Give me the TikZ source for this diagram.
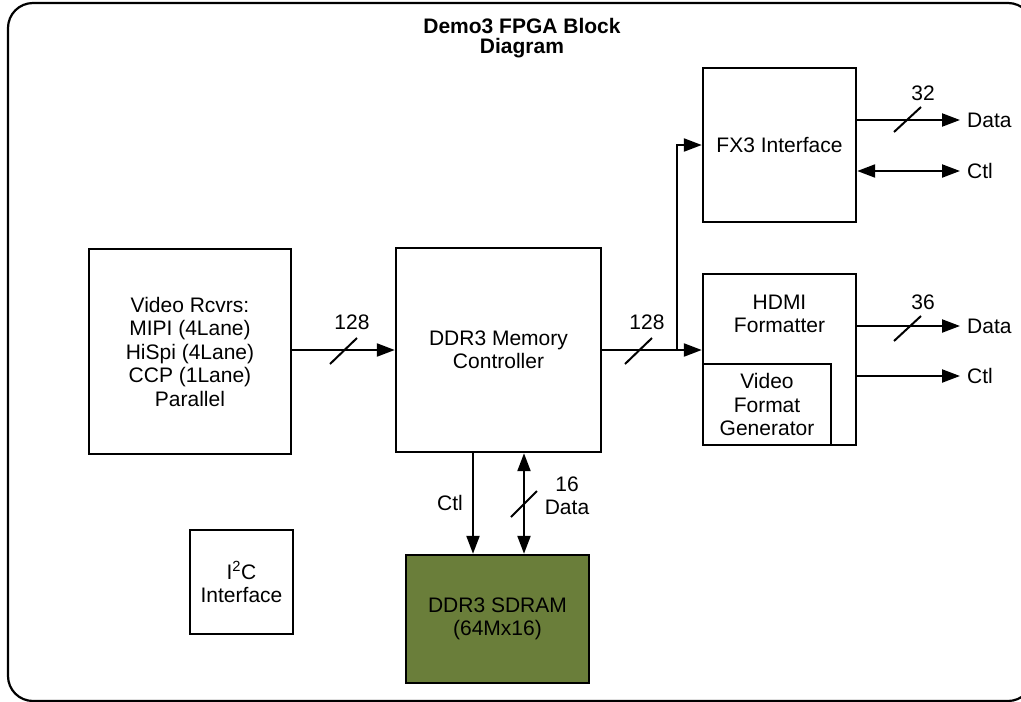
\documentclass[tikz,border=0pt]{standalone}
\usepackage{fontspec}
\setmainfont{Liberation Sans}
\usetikzlibrary{arrows.meta}
\definecolor{olive}{RGB}{106,126,58}
\begin{document}
\begin{tikzpicture}[x=1pt,y=-1pt,
  every node/.style={font=\fontsize{21}{23.5}\selectfont, align=center, inner sep=0pt},
  blk/.style={draw, line width=2.4pt, minimum width=#1},
  arr/.style={line width=2.2pt, -{Triangle[length=18pt,width=13pt]}},
  darr/.style={line width=2.2pt, {Triangle[length=18pt,width=13pt]}-{Triangle[length=18pt,width=13pt]}},
  slash/.style={line width=2pt}]
\useasboundingbox (0,0) rectangle (1021,702);
\clip (0,0) rectangle (1021,702);
\draw[line width=2.2pt, rounded corners=25pt] (8,3) rectangle (1033,701);

\node[font=\fontsize{21}{20}\selectfont\bfseries] (title) at (522,38) {Demo3 FPGA Block\\Diagram};

\node[blk=202pt, minimum height=205pt] (vid) at (190,351.5) {Video Rcvrs:\\MIPI (4Lane)\\HiSpi (4Lane)\\CCP (1Lane)\\Parallel};
\node[blk=205pt, minimum height=204pt] (ddr) at (498.5,350) {DDR3 Memory\\Controller};
\node[blk=153pt, minimum height=154pt] (fx3) at (779.5,145) {FX3 Interface};
\node[blk=153pt, minimum height=171pt] (hdmi) at (779.5,359.5) {};
\node (hdmitxt) at (779.5,314) {HDMI\\Formatter};
\node[blk=128pt, minimum height=81pt, fill=white] (vfg) at (767,404.5) {Video\\Format\\Generator};
\node[blk=183pt, minimum height=128pt, fill=olive] (sdram) at (497.5,619) {DDR3 SDRAM\\(64Mx16)};
\node[blk=103pt, minimum height=104pt] (i2c) at (241.5,582) {I\textsuperscript{2}C\\Interface};

% video -> ddr
\draw[arr] (vid.east |- ddr.west) -- (ddr.west);
\draw[slash] (330,364) -- (357,338);
\node (l128a) at (352,322) {128};

% ddr -> hdmi, branch to fx3
\draw[arr] (ddr.east) -- (ddr.east -| hdmi.west);
\coordinate (br) at (677,350);
\draw[arr] (br) |- (fx3.west);
\draw[slash] (625,364) -- (652,338);
\node (l128b) at (647,322) {128};

% fx3 outputs
\node[anchor=west] (fxdata) at (967,120) {Data};
\node[anchor=west] (fxctl) at (967,171) {Ctl};
\draw[arr] (fxdata.west -| fx3.east) -- ([xshift=-7pt]fxdata.west);
\draw[darr] (fxctl.west -| fx3.east) -- ([xshift=-7pt]fxctl.west);
\draw[slash] (894,132) -- (921,107);
\node (l32) at (923,93) {32};

% hdmi outputs
\node[anchor=west] (hddata) at (967,326) {Data};
\node[anchor=west] (hdctl) at (967,376) {Ctl};
\draw[arr] (hddata.west -| hdmi.east) -- ([xshift=-7pt]hddata.west);
\draw[arr] (hdctl.west -| hdmi.east) -- ([xshift=-7pt]hdctl.west);
\draw[slash] (894,341) -- (921,316);
\node (l36) at (923,302) {36};

% ddr <-> sdram
\coordinate (c1) at (473,0);
\coordinate (c2) at (524,0);
\draw[arr] (c1 |- ddr.south) -- (c1 |- sdram.north);
\draw[darr] (c2 |- ddr.south) -- (c2 |- sdram.north);
\node (lctl) at (450,503) {Ctl};
\draw[slash] (511,517) -- (537,491);
\node (l16) at (567,496) {16\\Data};
\end{tikzpicture}
\end{document}
